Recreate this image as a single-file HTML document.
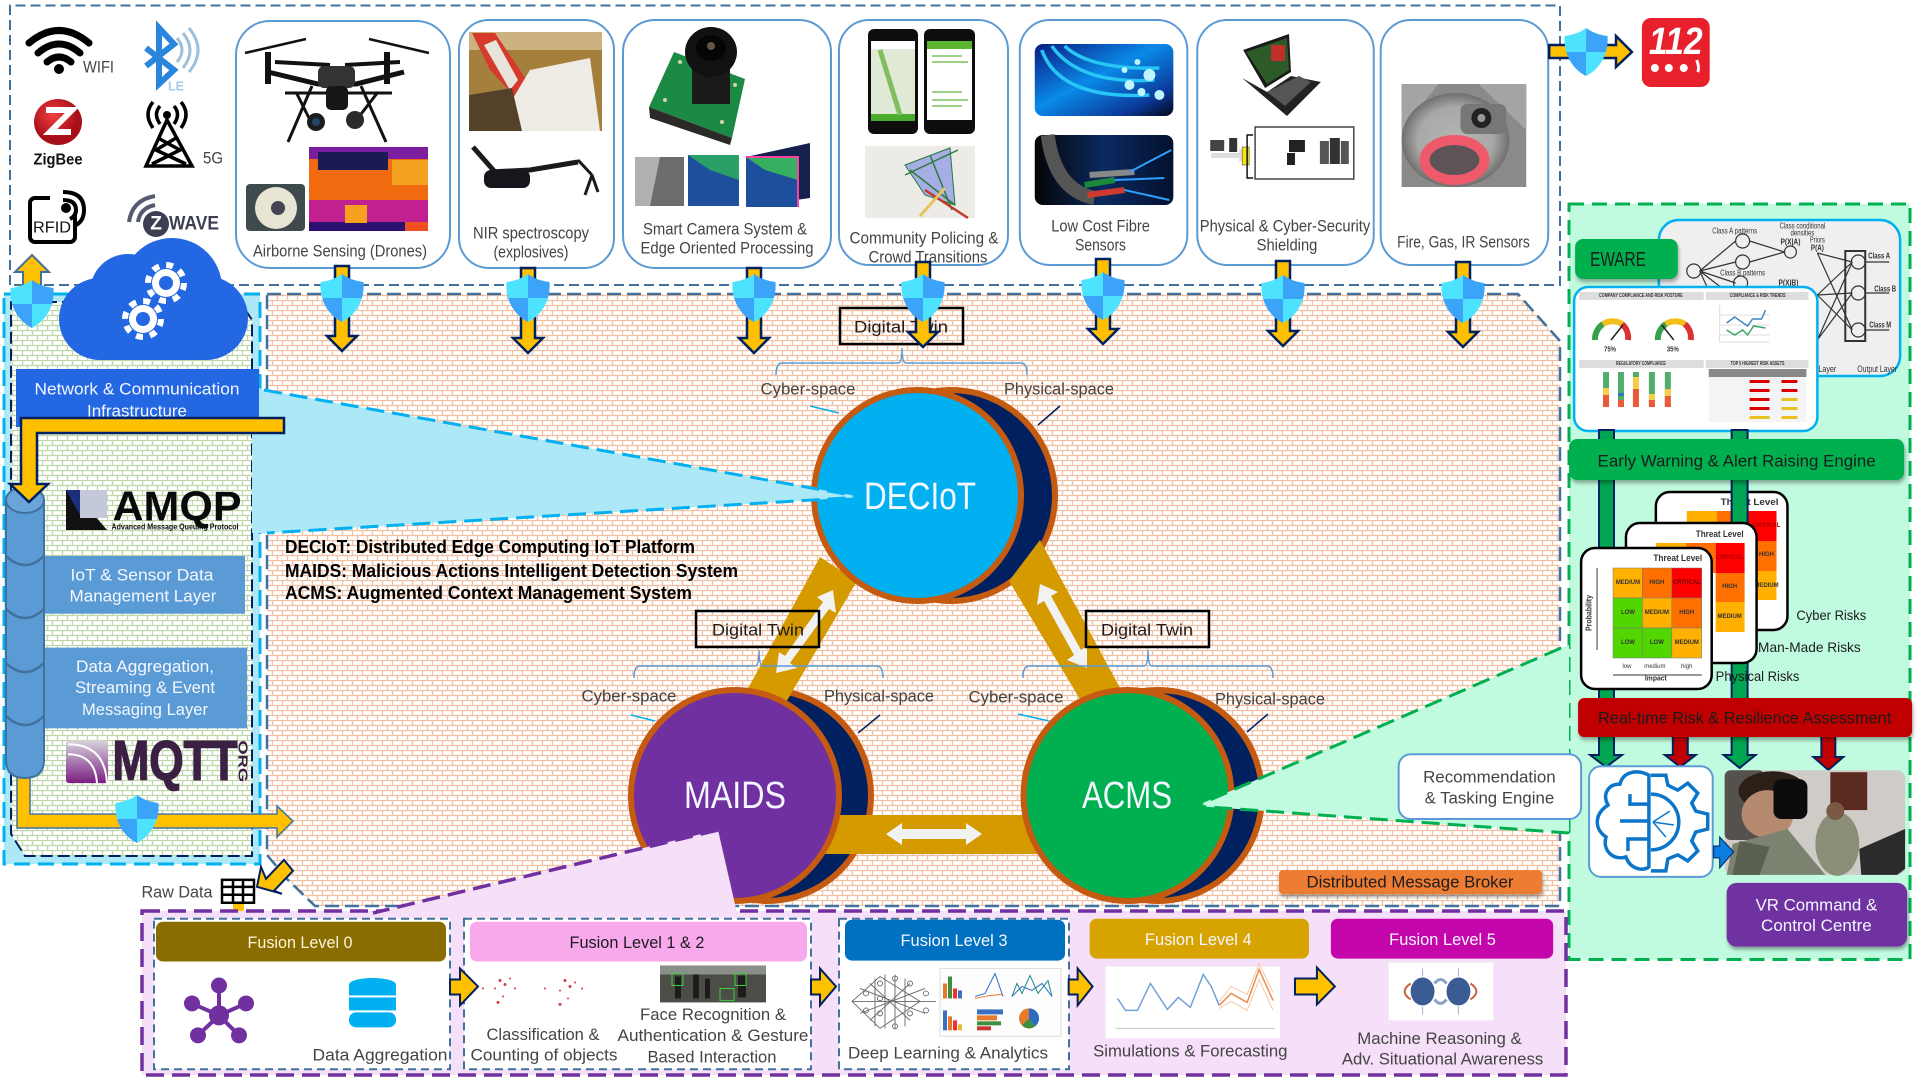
<!DOCTYPE html>
<html><head><meta charset="utf-8"><title>Architecture</title>
<style>
html,body{margin:0;padding:0;background:#fff;width:1917px;height:1078px;overflow:hidden}
svg{display:block}
text{font-family:"Liberation Sans",sans-serif;}
.t{font-size:17px;fill:#444;text-anchor:middle;dominant-baseline:central}
.w{fill:#f4f7ff}.d{fill:#1c1c1c}
.b{font-size:18px;font-weight:bold;fill:#000;dominant-baseline:central}
.g{font-size:6px;font-weight:bold;fill:#333;text-anchor:middle;dominant-baseline:central}
.card{fill:#fff;stroke:#5b9bd5;stroke-width:2}
</style></head><body>
<svg width="1917" height="1078" viewBox="0 0 1917 1078" xmlns="http://www.w3.org/2000/svg">
<defs>
<pattern id="bo" width="10" height="10" patternUnits="userSpaceOnUse">
<rect width="10" height="10" fill="#fff"/>
<path d="M0 .5H10M0 5.5H10M2.5 0V5M7.5 5V10" stroke="#f2bfa0" stroke-width="1.300" fill="none"/>
</pattern>
<pattern id="bg" width="10" height="10" patternUnits="userSpaceOnUse">
<rect width="10" height="10" fill="#fff"/>
<path d="M0 .5H10M0 5.5H10M2.5 0V5M7.5 5V10" stroke="#bdd7a6" stroke-width="1.300" fill="none"/>
</pattern>
<clipPath id="sc"><path d="M0-24C7-19 14-17 21.500-16C23 4 12 18 0 24C-12 18-23 4-21.500-16C-14-17-7-19 0-24Z"/></clipPath>
<g id="sh"><g clip-path="url(#sc)"><rect x="-23" y="-25" width="23" height="25" fill="#4de3ff"/><rect x="0" y="-25" width="23" height="25" fill="#3ba3f8"/><rect x="-23" y="0" width="23" height="25" fill="#3ba3f8"/><rect x="0" y="0" width="23" height="25" fill="#4de3ff"/></g></g>
<polygon id="dn" points="-7,0 7,0 7,70 15,70 0,85 -15,70 -7,70" fill="#ffc000" stroke="#002060" stroke-width="2.500"/>
<filter id="s" x="-5%" y="-10%" width="110%" height="130%"><feDropShadow dx="1" dy="3" stdDeviation="2" flood-color="#000" flood-opacity=".35"/></filter>
<g id="gear"><circle r="14" fill="#fff"/><circle r="18" fill="none" stroke="#fff" stroke-width="6" stroke-dasharray="7 7.140"/><circle r="7" fill="#2367e3"/></g>
<radialGradient id="zb" cx=".4" cy=".35"><stop offset="0" stop-color="#f04040"/><stop offset="1" stop-color="#a80f18"/></radialGradient>
<linearGradient id="fib" x1="0" y1="0" x2="1" y2="1"><stop offset="0" stop-color="#0a1a80"/><stop offset=".45" stop-color="#0a8ae8"/><stop offset=".8" stop-color="#0b3a9a"/><stop offset="1" stop-color="#04061a"/></linearGradient>
<linearGradient id="fib2" x1="0" y1="0" x2="1" y2="0"><stop offset="0" stop-color="#050505"/><stop offset=".5" stop-color="#0a2a60"/><stop offset="1" stop-color="#03112e"/></linearGradient>
<linearGradient id="mq" x1="0" y1="0" x2="0" y2="1"><stop offset="0" stop-color="#d8d4de"/><stop offset="1" stop-color="#7a1f80"/></linearGradient>
<radialGradient id="cam" cx=".5" cy=".5"><stop offset="0" stop-color="#b5b5b3"/><stop offset=".7" stop-color="#a8a8a6"/><stop offset="1" stop-color="#6f6f6f"/></radialGradient>
</defs>

<rect width="1917" height="1078" fill="#fff"/>

<!-- top dashed -->
<path d="M10 285V5.500H1560V285H10" fill="none" stroke="#41719c" stroke-width="2" stroke-dasharray="10 5"/>

<!-- central hatched -->
<polygon points="267,294 1518,294 1560,341 1560,906 315,906 288,880 267,855" fill="url(#bo)" stroke="#41719c" stroke-width="2.500" stroke-dasharray="14 6"/>

<!-- left panel -->
<rect x="4" y="294" width="256" height="570" fill="#ade8f6" stroke="#00b0f0" stroke-width="3" stroke-dasharray="16 8"/>
<polygon points="11,302 240,302 252,320 252,856 25,856 11,834" fill="url(#bg)" stroke="#002060" stroke-width="2" stroke-dasharray="12 5"/>

<!-- right panel -->
<rect x="1569" y="204" width="341" height="755.500" fill="#c1fbdf" stroke="#00b050" stroke-width="3" stroke-dasharray="15 8"/>

<!-- cards left -->
<rect class="card" x="236" y="21" width="214" height="247" rx="34"/>
<rect class="card" x="459" y="20" width="155" height="248" rx="30"/>
<rect class="card" x="623" y="20" width="208" height="248" rx="32"/>
<rect class="card" x="839" y="20" width="169" height="245" rx="30"/>

<!-- Wireless icons -->
<g fill="none" stroke="#000" stroke-width="7" stroke-linecap="round">
<path d="M29 43Q59 18 89 43"/><path d="M38 53Q59 35 80 53"/><path d="M47 62Q59 52 71 62"/></g>
<circle cx="59" cy="69" r="5"/>
<text x="83" y="67" class="t" style="text-anchor:start" textLength="31" lengthAdjust="spacingAndGlyphs">WIFI</text>
<path d="M146 48L174 70L159 84V28L174 44L146 66" fill="none" stroke="#2a85dc" stroke-width="6"/>
<g fill="none" stroke="#9dc0dc" stroke-width="3"><path d="M177 38Q187 50 177 62"/><path d="M183 33Q197 50 183 68"/><path d="M189 28Q207 50 189 72"/></g>
<text x="176" y="86" class="t" style="font-size:13px;font-weight:bold;fill:#a9c8ec" textLength="16" lengthAdjust="spacingAndGlyphs">LE</text>
<ellipse cx="58" cy="122" rx="24" ry="23" fill="url(#zb)"/>
<path d="M46 110H72L50 132H71" fill="none" stroke="#fff" stroke-width="6"/>
<text x="58" y="160" class="t" style="font-size:16px;font-weight:bold;fill:#111" textLength="49" lengthAdjust="spacingAndGlyphs">ZigBee</text>
<g fill="none" stroke="#000" stroke-width="3.500"><path d="M167 120L146 166H192L167 120Z"/><path d="M158 138L180 150L152 164M176 138L156 150L186 164"/>
<path d="M160 106Q153 114 160 124M174 106Q181 114 174 124M153 102Q143 114 153 128M181 102Q191 114 181 128"/></g>
<circle cx="167" cy="115" r="4"/>
<text x="203" y="158" class="t" style="text-anchor:start" textLength="20" lengthAdjust="spacingAndGlyphs">5G</text>
<rect x="30" y="198" width="45" height="44" rx="5" fill="none" stroke="#000" stroke-width="4"/>
<rect x="50" y="190" width="36" height="24" fill="#fff"/>
<g fill="none" stroke="#000" stroke-width="4"><path d="M63 192Q84 192 84 210Q84 222 74 226"/><path d="M63 200Q76 200 76 210Q76 216 70 219"/></g><circle cx="66" cy="208" r="5"/>
<text x="52" y="228" class="t" style="fill:#111;font-size:16px" textLength="38" lengthAdjust="spacingAndGlyphs">RFID</text>
<g fill="none" stroke="#555a6e" stroke-width="4"><path d="M129 222Q132 200 155 196"/><path d="M138 222Q140 208 155 205"/></g>
<circle cx="156" cy="224" r="13" fill="#3c3f52"/><text x="156" y="224" class="t" style="font-size:19px;font-weight:bold;fill:#fff">Z</text>
<text x="194" y="224" class="t" style="font-size:19px;font-weight:bold;fill:#3c3f52" textLength="50" lengthAdjust="spacingAndGlyphs">WAVE</text>

<!-- Drone -->
<g stroke="#111" fill="none">
<path d="M245 53L306 39M429 53L369 39" stroke-width="2.500"/>
<path d="M268 72L318 84H356L404 72" stroke-width="5"/>
<path d="M268 52V84M387 52V84" stroke-width="6"/>
<path d="M312 86L288 142M361 86L386 142M296 92L310 120M378 92L358 118" stroke-width="3"/>
<path d="M285 93H392" stroke-width="3"/>
<path d="M330 65L275 62M345 65L400 62" stroke-width="4"/>
</g>
<rect x="318" y="66" width="37" height="22" rx="6" fill="#333"/>
<rect x="326" y="86" width="22" height="24" rx="5" fill="#161616"/>
<circle cx="316" cy="122" r="9" fill="#1c1c1c"/><circle cx="316" cy="122" r="4" fill="#246"/>
<circle cx="355" cy="120" r="9" fill="#2a2a2a"/>
<!-- gimbal -->
<rect x="246" y="184" width="59" height="47" rx="4" fill="#3e4a4c"/>
<ellipse cx="276" cy="208" rx="21" ry="21" fill="#e9e5d4"/><circle cx="278" cy="208" r="7" fill="#445"/>
<!-- thermal -->
<rect x="309" y="147" width="119" height="84" rx="4" fill="#f06a10"/>
<rect x="309" y="147" width="119" height="12" fill="#7b1fa0"/><rect x="318" y="152" width="70" height="18" fill="#1c1a55"/>
<rect x="392" y="160" width="36" height="25" fill="#f4a020"/>
<rect x="309" y="200" width="119" height="31" fill="#c02090"/>
<rect x="309" y="222" width="119" height="9" fill="#2c1070"/>
<path d="M345 205h22v18h-22z" fill="#f6a020"/><rect x="405" y="222" width="23" height="9" fill="#f05020"/>

<!-- NIR -->
<rect x="469" y="32" width="133" height="99" fill="#a5803c"/>
<rect x="469" y="32" width="133" height="18" fill="#ccb27f"/>
<polygon points="472,33 495,33 530,85 518,100 490,70" fill="#d63a2c"/><polygon points="484,45 496,40 518,80 510,90" fill="#e8e4dc"/>
<polygon points="530,70 590,58 600,131 520,131 512,100" fill="#efece5"/>
<polygon points="469,95 512,88 522,131 469,131" fill="#54412a"/>
<g stroke="#1a1a1a" fill="none"><path d="M490 172L530 170L578 162" stroke-width="5"/><path d="M473 147L495 172" stroke-width="5"/><path d="M578 160L592 175M592 175L585 195M592 175L598 192" stroke-width="3"/></g>
<rect x="484" y="170" width="46" height="18" rx="7" fill="#15171c"/>

<!-- Camera -->
<polygon points="674,52 745,79 732,138 649,107" fill="#1b8a45"/>
<polygon points="649,107 732,138 730,145 650,118" fill="#2c2a28"/>
<g fill="#d8d2b0"><circle cx="665" cy="100" r="2"/><circle cx="722" cy="122" r="2"/><circle cx="735" cy="85" r="2"/><circle cx="680" cy="62" r="2"/></g>
<rect x="692" y="62" width="38" height="42" fill="#1a1a1a"/>
<ellipse cx="711" cy="52" rx="26" ry="25" fill="#111"/><ellipse cx="711" cy="48" rx="15" ry="13" fill="#050505"/><circle cx="711" cy="46" r="4" fill="#654"/>
<rect x="635" y="157" width="49" height="49" fill="#6d6d6d"/><polygon points="635,157 660,157 650,206 635,206" fill="#b0b0b0"/>
<rect x="688" y="155" width="51" height="51" fill="#1e4f9c"/><polygon points="688,155 739,155 739,180 710,170" fill="#2aa068"/>
<polygon points="746,157 810,143 810,198 746,207" fill="#16204e"/><rect x="746" y="157" width="52" height="50" fill="#1e4f9c"/><polygon points="746,157 798,157 798,180 765,170" fill="#36b060"/>
<path d="M746 157h52v50" stroke="#ff40a0" fill="none" stroke-width="2"/>

<!-- Phones -->
<rect x="868" y="29" width="50" height="105" rx="6" fill="#0d0d0d"/><rect x="871" y="41" width="44" height="79" fill="#dfe9d5"/><rect x="871" y="41" width="44" height="8" fill="#fff"/><rect x="871" y="114" width="44" height="7" fill="#4aab2c"/><path d="M880 50L900 115" stroke="#7fbf5f" stroke-width="5"/>
<rect x="924" y="29" width="51" height="105" rx="6" fill="#0d0d0d"/><rect x="927" y="41" width="45" height="79" fill="#fff"/><rect x="927" y="41" width="45" height="8" fill="#5cb531"/><path d="M932 56h30M932 62h36M932 92h30M932 100h36M932 106h30" stroke="#7fbf5f" stroke-width="1.500"/>
<rect x="865" y="146" width="110" height="72" fill="#ecebe6"/>
<polygon points="905,165 950,148 955,205 925,195" fill="#a7aee6" stroke="#274"/>
<path d="M905 175L958 150M910 170L955 205M930 155L952 210" stroke="#2a7c3c" stroke-width="1.500"/><path d="M925 190L968 218" stroke="#c23a2a" stroke-width="2.500"/><path d="M920 216L945 188" stroke="#e8c25a" stroke-width="3"/>

<!-- Card text left -->
<text x="340" y="251" class="t" textLength="174" lengthAdjust="spacingAndGlyphs">Airborne Sensing (Drones)</text>
<text x="531" y="233" class="t" textLength="116" lengthAdjust="spacingAndGlyphs">NIR spectroscopy</text>
<text x="531" y="252" class="t" textLength="75" lengthAdjust="spacingAndGlyphs">(explosives)</text>
<text x="725" y="229" class="t" textLength="164" lengthAdjust="spacingAndGlyphs">Smart Camera System &amp;</text>
<text x="727" y="248" class="t" textLength="173" lengthAdjust="spacingAndGlyphs">Edge Oriented Processing</text>
<text x="924" y="238" class="t" textLength="149" lengthAdjust="spacingAndGlyphs">Community Policing &amp;</text>
<text x="928" y="257" class="t" textLength="119" lengthAdjust="spacingAndGlyphs">Crowd Transitions</text>

<!-- right half top items -->
<g transform="matrix(.99695 0 0 1 2.928 0)">
<rect class="card" x="1020" y="20" width="168" height="245" rx="30"/>
<rect class="card" x="1198" y="20" width="177" height="245" rx="30"/>
<rect class="card" x="1382" y="20" width="168" height="245" rx="30"/>
<!-- Fibres -->
<rect x="1035" y="44" width="139" height="72" rx="8" fill="url(#fib)"/>
<g fill="none" stroke="#27c6f5" stroke-width="3.500"><path d="M1042 50Q1060 100 1150 95"/><path d="M1052 46Q1080 85 1155 80"/><path d="M1065 46Q1090 70 1160 68"/></g>
<g fill="#bff4ff"><circle cx="1130" cy="85" r="5"/><circle cx="1150" cy="75" r="6"/><circle cx="1160" cy="95" r="5"/><circle cx="1125" cy="70" r="3"/><circle cx="1142" cy="92" r="4"/><circle cx="1138" cy="62" r="3"/></g>
<rect x="1035" y="135" width="139" height="70" rx="8" fill="url(#fib2)"/>
<path d="M1048 135Q1055 190 1095 198" fill="none" stroke="#555" stroke-width="14"/>
<g stroke-width="6"><path d="M1085 185L1115 180" stroke="#1a8a3a"/><path d="M1088 195L1125 190" stroke="#cc3a30"/><path d="M1090 175L1135 172" stroke="#888"/></g>
<path d="M1130 172L1172 150M1125 190L1170 200M1115 180L1165 178" stroke="#2ea0ff" stroke-width="2"/>
<!-- Laptop -->
<polygon points="1244,50 1290,34 1292,72 1266,88" fill="#1a1a1a"/>
<polygon points="1247,52 1288,38 1290,70 1268,84" fill="#2c5a28"/><rect x="1272" y="45" width="14" height="16" fill="#c0302a"/>
<polygon points="1243,78 1268,92 1292,76 1322,82 1288,116" fill="#222"/>
<polygon points="1268,92 1300,76 1312,82 1286,106" fill="#555"/>
<rect x="1256" y="127" width="99" height="52" fill="#fff" stroke="#444" stroke-width="1.500"/>
<rect x="1211" y="140" width="14" height="11" fill="#444"/><rect x="1230" y="138" width="8" height="14" fill="#333"/>
<polygon points="1212,153 1240,153 1240,148 1250,155 1240,162 1240,158 1212,158" fill="#ddd"/>
<rect x="1243" y="147" width="7" height="18" fill="#f2e70f" stroke="#333" stroke-width=".5"/><path d="M1254 135h-6v43h6" fill="none" stroke="#111" stroke-width="1.500"/>
<rect x="1290" y="140" width="16" height="12" fill="#222"/><rect x="1288" y="153" width="8" height="12" fill="#222"/>
<rect x="1321" y="141" width="9" height="23" fill="#555"/><rect x="1331" y="138" width="10" height="26" fill="#333"/><rect x="1342" y="141" width="8" height="23" fill="#555"/>
<!-- Fire sensor -->
<rect x="1403" y="84" width="125" height="103" fill="#8a8a88"/>
<path d="M1403 84L1440 84L1403 130ZM1480 84L1528 130V84Z" fill="#a4a4a2"/>
<ellipse cx="1457" cy="140" rx="54" ry="47" fill="url(#cam)"/>
<ellipse cx="1456" cy="160" rx="30" ry="20" fill="#5e5458" stroke="#ef5a6a" stroke-width="10"/>
<rect x="1462" y="104" width="46" height="30" rx="7" fill="#777"/><circle cx="1483" cy="118" r="10" fill="#222"/><circle cx="1483" cy="118" r="4" fill="#999"/>
<!-- text -->
<text x="1101" y="226" class="t" textLength="99" lengthAdjust="spacingAndGlyphs">Low Cost Fibre</text>
<text x="1101" y="245" class="t" textLength="51" lengthAdjust="spacingAndGlyphs">Sensors</text>
<text x="1286" y="226" class="t" textLength="171" lengthAdjust="spacingAndGlyphs">Physical &amp; Cyber-Security</text>
<text x="1288" y="245" class="t" textLength="61" lengthAdjust="spacingAndGlyphs">Shielding</text>
<text x="1465" y="242" class="t" textLength="133" lengthAdjust="spacingAndGlyphs">Fire, Gas, IR Sensors</text>
</g>

<!-- back circles -->
<g stroke="#c55a11" stroke-width="6" fill="#002060">
<ellipse cx="951" cy="495.500" rx="104" ry="105.500"/>
<ellipse cx="767" cy="795.500" rx="104" ry="105.500"/>
<ellipse cx="1158" cy="795.500" rx="104" ry="105.500"/>
</g>
<!-- gold bands -->
<g fill="#d49a00">
<polygon points="735,712 820,557 857,581 778,716"/>
<polygon points="1090,716 1009,581 1040,540 1132,710"/>
<rect x="815" y="815" width="230" height="39"/>
</g>
<!-- front circles -->
<g stroke="#c55a11" stroke-width="6">
<ellipse cx="917.500" cy="495.500" rx="103.500" ry="105.500" fill="#00b0f0"/>
<ellipse cx="735" cy="795.500" rx="104" ry="105.500" fill="#7030a0"/>
<ellipse cx="1127.500" cy="795.500" rx="104" ry="105.500" fill="#00b050"/>
</g>
<text x="920" y="497" class="t w" style="font-size:38px" textLength="112" lengthAdjust="spacingAndGlyphs">DECIoT</text>
<text x="735" y="796" class="t w" style="font-size:38px" textLength="102" lengthAdjust="spacingAndGlyphs">MAIDS</text>
<text x="1127" y="796" class="t w" style="font-size:38px" textLength="90" lengthAdjust="spacingAndGlyphs">ACMS</text>

<!-- white double arrows -->
<g fill="#f2f2f2">
<polygon points="833,590 836,613 829,609 790,663 797,668 776,673 779,652 785,656 823,602 817,597"/>
<polygon points="1040,584 1058,592 1051,596 1081,650 1087,646 1087,668 1067,660 1074,655 1044,601 1037,605"/>
<polygon points="886,834 902,823 902,829 966,829 966,823 982,834 966,845 966,839 902,839 902,845"/>
</g>

<!-- brackets -->
<g fill="none" stroke="#5b9bd5" stroke-width="1.500">
<path d="M776 375Q776 363 782 363H898Q902 363 902 348Q902 363 906 363H1021Q1027 363 1027 375"/>
<path d="M634 678Q634 666 640 666H755Q759 666 759 650Q759 666 763 666H877Q883 666 883 678"/>
<path d="M1023 678Q1023 666 1029 666H1144Q1148 666 1148 650Q1148 666 1152 666H1267Q1273 666 1273 678"/>
</g>
<g fill="none" stroke-width="1.500">
<path d="M810 406L839 413M631 715L655 721M1018 714L1049 721" stroke="#00b0f0"/>
<path d="M1060 406L1038 425M880 715L858 733M1268 714L1247 732" stroke="#002060"/>
</g>
<text x="808" y="389" class="t" textLength="95" lengthAdjust="spacingAndGlyphs">Cyber-space</text>
<text x="1059" y="389" class="t" textLength="110" lengthAdjust="spacingAndGlyphs">Physical-space</text>
<text x="629" y="696" class="t" textLength="95" lengthAdjust="spacingAndGlyphs">Cyber-space</text>
<text x="879" y="696" class="t" textLength="110" lengthAdjust="spacingAndGlyphs">Physical-space</text>
<text x="1016" y="697" class="t" textLength="95" lengthAdjust="spacingAndGlyphs">Cyber-space</text>
<text x="1270" y="699" class="t" textLength="110" lengthAdjust="spacingAndGlyphs">Physical-space</text>

<!-- digital twin -->
<g fill="none" stroke="#000" stroke-width="2.500">
<rect x="840" y="308" width="123" height="36"/>
<rect x="696" y="611" width="123" height="36"/>
<rect x="1086" y="611" width="123" height="36"/>
</g>
<text x="901" y="327" class="t d" textLength="94" lengthAdjust="spacingAndGlyphs">Digital Twin</text>
<text x="758" y="630" class="t d" textLength="92" lengthAdjust="spacingAndGlyphs">Digital Twin</text>
<text x="1147" y="630" class="t d" textLength="92" lengthAdjust="spacingAndGlyphs">Digital Twin</text>

<text x="285" y="547" class="b" textLength="410" lengthAdjust="spacingAndGlyphs">DECIoT: Distributed Edge Computing IoT Platform</text>
<text x="285" y="571" class="b" textLength="453" lengthAdjust="spacingAndGlyphs">MAIDS: Malicious Actions Intelligent Detection System</text>
<text x="285" y="593" class="b" textLength="407" lengthAdjust="spacingAndGlyphs">ACMS: Augmented Context Management System</text>

<!-- wedges -->
<polygon points="252,385 264,390 862,497 267,533 252,533" fill="#ade8f6"/>
<path d="M264 390L862 497L267 533" fill="none" stroke="#00b0f0" stroke-width="3" stroke-dasharray="18 8"/>
<polygon points="1196,806 1561,648 1569,645 1569,833" fill="#c1fbdf"/>
<path d="M1561 648L1196 806L1569 833" fill="none" stroke="#00b050" stroke-width="3" stroke-dasharray="18 8"/>

<!-- Distributed broker -->
<rect x="1279" y="870" width="263" height="24" rx="4" fill="#ed7d31" filter="url(#s)"/>
<text x="1410" y="882" class="t d" textLength="207" lengthAdjust="spacingAndGlyphs">Distributed Message Broker</text>

<!-- Cloud -->
<g fill="#2367e3"><circle cx="100" cy="319" r="41"/><circle cx="128" cy="292" r="38"/><circle cx="172" cy="288" r="50"/><circle cx="206" cy="318" r="42"/><rect x="100" y="300" width="106" height="60"/></g>
<use href="#gear" x="166" y="283"/><use href="#gear" x="143" y="319"/>

<rect x="16" y="369" width="243" height="58" fill="#2367e3"/>
<text x="137" y="389" class="t w" textLength="205" lengthAdjust="spacingAndGlyphs">Network &amp; Communication</text>
<text x="137" y="411" class="t w" textLength="100" lengthAdjust="spacingAndGlyphs">Infrastructure</text>

<!-- AMQP -->
<polygon points="66,490 73,490 107,530 66,530" fill="#111"/><polygon points="66,490 80,490 80,515" fill="#1b2f7e"/><rect x="80" y="490" width="27" height="28" fill="#c3c9da"/><polygon points="66,520 95,520 107,530 66,530" fill="#111"/>
<text x="177" y="506" class="t" style="font-size:42px;font-weight:bold;fill:#0a0a0a" textLength="129" lengthAdjust="spacingAndGlyphs">AMQP</text>
<text x="175" y="527" class="t" style="font-size:8px;font-weight:bold;fill:#111" textLength="127" lengthAdjust="spacingAndGlyphs">Advanced Message Queuing Protocol</text>

<g transform="matrix(1 0 0 .9966 0 1.836)">
<!-- Layers -->
<rect x="44" y="556" width="201" height="58" fill="#5b9bd5"/>
<text x="142" y="575" class="t w" textLength="143" lengthAdjust="spacingAndGlyphs">IoT  &amp; Sensor Data</text>
<text x="143" y="596" class="t w" textLength="147" lengthAdjust="spacingAndGlyphs">Management Layer</text>
<rect x="44" y="648" width="203" height="81" fill="#5b9bd5"/>
<text x="145" y="667" class="t w" textLength="138" lengthAdjust="spacingAndGlyphs">Data Aggregation,</text>
<text x="145" y="688" class="t w" textLength="140" lengthAdjust="spacingAndGlyphs">Streaming &amp; Event</text>
<text x="145" y="710" class="t w" textLength="126" lengthAdjust="spacingAndGlyphs">Messaging Layer</text>

<!-- MQTT -->
<rect x="66" y="741" width="42" height="43" rx="3" fill="url(#mq)"/>
<path d="M68 755Q95 755 97 784M68 745Q105 745 107 784" fill="none" stroke="#fff" stroke-width="2"/>
<text x="175" y="761" class="t" style="font-size:56px;font-weight:bold;fill:#3b2044;stroke:#3b2044;stroke-width:1.500px" textLength="125" lengthAdjust="spacingAndGlyphs">MQTT</text>
<text transform="translate(243 762) rotate(90)" class="t" style="font-size:13px;font-weight:bold;fill:#3b2044" textLength="42" lengthAdjust="spacingAndGlyphs">ORG</text>

<!-- cylinder + arrows -->
<polygon points="17,775 30,775 30,815 277,815 277,807 293,822 277,838 277,829 17,829" fill="#ffc000" stroke="#41719c" stroke-width="1.500"/>
</g>
<rect x="6" y="495" width="38" height="265" fill="#5b9bd5"/>
<ellipse cx="25" cy="500" rx="19" ry="13" fill="#6aa4da" stroke="#41719c" stroke-width="2"/>
<path d="M6 760Q6 778 25 778Q44 778 44 760" fill="#5b9bd5" stroke="#41719c" stroke-width="2"/>
<path d="M6 500V760M44 500V760" stroke="#41719c" stroke-width="2"/>
<g fill="none" stroke="#41719c" stroke-width="2.500"><path d="M6 556Q25 574 44 556"/><path d="M6 609Q25 627 44 609"/><path d="M6 663Q25 681 44 663"/><path d="M6 716Q25 734 44 716"/></g>
<polygon points="21,418 284,418 284,433 37,433 37,484 48,484 29,502 10,484 21,484" fill="#ffc000" stroke="#002060" stroke-width="2.500"/>
<use href="#sh" x="137" y="819"/>

<!-- up arrow & shield -->
<polygon points="32,255 49,272 41,272 41,290 23,290 23,272 15,272" fill="#ffc000" stroke="#41719c" stroke-width="2"/>
<use href="#sh" x="32" y="304"/>

<!-- down arrows + shields -->
<use href="#dn" x="342" y="266"/><use href="#dn" x="528" y="268"/><use href="#dn" x="754" y="268"/><use href="#dn" x="923" y="262"/><use href="#dn" x="1103" y="259"/><use href="#dn" x="1283" y="261"/><use href="#dn" x="1463" y="262"/>
<use href="#sh" x="342" y="298"/><use href="#sh" x="528" y="298"/><use href="#sh" x="754" y="298"/><use href="#sh" x="923" y="298"/><use href="#sh" x="1103" y="296"/><use href="#sh" x="1283" y="299"/><use href="#sh" x="1463" y="299"/>

<!-- right panel: upper items -->
<g transform="matrix(.99695 0 0 1 2.928 0)">
<!-- 112 -->
<polygon points="1551,45 1618,45 1618,36 1634,52 1618,67 1618,58 1551,58" fill="#ffc000" stroke="#002060" stroke-width="2.500"/>
<use href="#sh" x="1588" y="52"/>
<rect x="1644" y="18" width="68" height="69" rx="9" fill="#e8202c"/>
<text x="1678" y="42" class="t" style="font-size:38px;font-weight:bold;font-style:italic;fill:#fff" textLength="54" lengthAdjust="spacingAndGlyphs">112</text>
<g fill="#fff"><circle cx="1657" cy="68" r="4"/><circle cx="1671" cy="68" r="4"/><circle cx="1686" cy="68" r="4"/></g><path d="M1700 72Q1702 68 1699 60" stroke="#fff" stroke-width="3" fill="none"/>

<!-- NN panel -->
<rect x="1661" y="220" width="242" height="156" rx="20" fill="#efefef" stroke="#00b0f0" stroke-width="2.500"/>
<g fill="none" stroke="#333" stroke-width="1.200">
<circle cx="1696" cy="271" r="7"/><circle cx="1745" cy="241" r="7"/><circle cx="1745" cy="262" r="7"/><circle cx="1743" cy="283" r="7"/><circle cx="1793" cy="252" r="6"/>
<circle cx="1861" cy="262" r="7"/><circle cx="1861" cy="293" r="7"/><circle cx="1861" cy="330" r="7"/>
<rect x="1848" y="251" width="20" height="90" stroke-width="2"/>
<path d="M1702 271L1738 241M1702 271L1738 262M1702 271L1738 283M1702 271L1720 310M1702 271L1740 300M1752 241L1787 252M1752 262L1787 252M1820 253L1855 262M1820 253L1855 330M1820 295L1855 262M1820 295L1855 293M1820 295L1855 330M1820 340L1855 262M1820 340L1855 293M1868 262H1892M1868 293H1892M1868 330H1892"/>
</g>
<g><text x="1737" y="231" class="g" style="font-size:8px;font-weight:normal" textLength="45" lengthAdjust="spacingAndGlyphs">Class A patterns</text>
<text x="1805" y="226" class="g" style="font-size:8px;font-weight:normal" textLength="46" lengthAdjust="spacingAndGlyphs">Class conditional</text>
<text x="1805" y="233" class="g" style="font-size:8px;font-weight:normal" textLength="24" lengthAdjust="spacingAndGlyphs">densities</text>
<text x="1793" y="242" class="g" style="font-size:8px" textLength="20" lengthAdjust="spacingAndGlyphs">P(X|A)</text>
<text x="1820" y="240" class="g" style="font-size:8px;font-weight:normal" textLength="15" lengthAdjust="spacingAndGlyphs">Priors</text>
<text x="1820" y="248" class="g" style="font-size:8px" textLength="13" lengthAdjust="spacingAndGlyphs">P(A)</text>
<text x="1745" y="273" class="g" style="font-size:8px;font-weight:normal" textLength="45" lengthAdjust="spacingAndGlyphs">Class B patterns</text>
<text x="1791" y="283" class="g" style="font-size:8px" textLength="20" lengthAdjust="spacingAndGlyphs">P(X|B)</text>
<text x="1882" y="256" class="g" style="font-size:8px" textLength="22" lengthAdjust="spacingAndGlyphs">Class A</text>
<text x="1888" y="289" class="g" style="font-size:8px" textLength="22" lengthAdjust="spacingAndGlyphs">Class B</text>
<text x="1883" y="325" class="g" style="font-size:8px" textLength="22" lengthAdjust="spacingAndGlyphs">Class M</text>
<text x="1880" y="369" class="g" style="font-size:9px;font-weight:normal" textLength="40" lengthAdjust="spacingAndGlyphs">Output Layer</text>
<text x="1830" y="369" class="g" style="font-size:9px;font-weight:normal" textLength="18" lengthAdjust="spacingAndGlyphs">Layer</text></g>

<rect x="1577" y="239" width="103" height="40" rx="8" fill="#00b050" filter="url(#s)"/>
<text x="1620" y="260" class="t d" style="font-size:20px" textLength="56" lengthAdjust="spacingAndGlyphs">EWARE</text>

<!-- Dashboard -->
<rect x="1576" y="287" width="244" height="144" rx="14" fill="#fff" stroke="#00b0f0" stroke-width="2.500"/>
<g fill="#ddd"><rect x="1581" y="292" width="125" height="8"/><rect x="1708" y="292" width="103" height="8"/><rect x="1581" y="360" width="125" height="8"/><rect x="1708" y="360" width="103" height="8"/></g>
<g><text x="1643" y="296" class="g" style="font-size:5px" textLength="84" lengthAdjust="spacingAndGlyphs">COMPANY COMPLIANCE AND RISK POSTURE</text>
<text x="1760" y="296" class="g" style="font-size:5px" textLength="56" lengthAdjust="spacingAndGlyphs">COMPLIANCE &amp; RISK TRENDS</text>
<text x="1643" y="364" class="g" style="font-size:5px" textLength="50" lengthAdjust="spacingAndGlyphs">REGULATORY COMPLIANCE</text>
<text x="1760" y="364" class="g" style="font-size:5px" textLength="54" lengthAdjust="spacingAndGlyphs">TOP 5 HIGHEST RISK ASSETS</text></g>
<g fill="none" stroke-width="6"><path d="M1597 340A18 18 0 0 1 1605 324" stroke="#38a04a"/><path d="M1605 324A18 18 0 0 1 1624 324" stroke="#f3c01b"/><path d="M1624 324A18 18 0 0 1 1630 340" stroke="#d83232"/>
<path d="M1660 340A18 18 0 0 1 1668 324" stroke="#38a04a"/><path d="M1668 324A18 18 0 0 1 1687 324" stroke="#f3c01b"/><path d="M1687 324A18 18 0 0 1 1693 340" stroke="#d83232"/></g>
<path d="M1613 340L1625 325M1676 340L1664 325" stroke="#222" stroke-width="1.500"/>
<text x="1612" y="350" class="g" style="font-size:7px" textLength="12" lengthAdjust="spacingAndGlyphs">75%</text>
<text x="1675" y="350" class="g" style="font-size:7px" textLength="12" lengthAdjust="spacingAndGlyphs">35%</text>
<path d="M1722 305V342H1772M1722 315H1772M1722 325H1772M1722 335H1772" fill="none" stroke="#ddd"/>
<polyline points="1729,323 1737,317 1750,326 1755,319 1764,319 1768,310" fill="none" stroke="#3b86c4" stroke-width="1.500"/>
<polyline points="1729,330 1737,335 1745,330 1750,335 1756,326 1768,328" fill="none" stroke="#3aa767" stroke-width="1.500"/>
<g>
<rect x="1605" y="372" width="6" height="35" fill="#52ad6b"/><rect x="1605" y="395" width="6" height="12" fill="#e95a3a"/><rect x="1605" y="388" width="6" height="7" fill="#f4cd4b"/>
<rect x="1620" y="372" width="6" height="35" fill="#52ad6b"/><rect x="1620" y="400" width="6" height="7" fill="#e95a3a"/><rect x="1620" y="393" width="6" height="3" fill="#2a78c8"/>
<rect x="1635" y="372" width="6" height="35" fill="#f4cd4b"/><rect x="1635" y="389" width="6" height="18" fill="#e95a3a"/><rect x="1635" y="372" width="6" height="5" fill="#52ad6b"/>
<rect x="1651" y="372" width="6" height="35" fill="#52ad6b"/><rect x="1651" y="400" width="6" height="7" fill="#e95a3a"/><rect x="1651" y="394" width="6" height="6" fill="#f4cd4b"/>
<rect x="1667" y="372" width="6" height="35" fill="#52ad6b"/><rect x="1667" y="396" width="6" height="11" fill="#e95a3a"/><rect x="1667" y="389" width="6" height="7" fill="#f4cd4b"/>
</g>
<rect x="1711" y="369" width="98" height="8" fill="#888"/>
<rect x="1711" y="377" width="98" height="45" fill="#f4f4f4"/>
<g fill="#d00"><rect x="1752" y="380" width="20" height="3"/><rect x="1784" y="380" width="16" height="3"/><rect x="1752" y="389" width="20" height="3"/><rect x="1784" y="389" width="16" height="3"/><rect x="1752" y="398" width="20" height="3"/><rect x="1752" y="407" width="20" height="3"/></g>
<g fill="#e8c020"><rect x="1784" y="398" width="16" height="3"/><rect x="1784" y="407" width="16" height="3"/><rect x="1752" y="416" width="20" height="3"/><rect x="1784" y="416" width="16" height="3"/></g>

<!-- Threat cards C -->
<rect x="1658" y="492" width="132" height="138" rx="14" fill="#fff" stroke="#000" stroke-width="2.500"/>
<rect x="1689" y="511" width="30" height="30" fill="#ffb000"/><rect x="1719" y="511" width="30" height="30" fill="#ff7000"/><rect x="1749" y="511" width="30" height="30" fill="#ff0000"/>
<rect x="1749" y="541" width="30" height="30" fill="#ff7000"/><rect x="1749" y="571" width="30" height="29" fill="#ffb000"/>
<text x="1769" y="526" class="g" style="fill:#a00">CRITICAL</text><text x="1769" y="555" class="g">HIGH</text><text x="1769" y="586" class="g">MEDIUM</text>
<text x="1752" y="502" class="g" style="font-size:9px" textLength="58" lengthAdjust="spacingAndGlyphs">Threat Level</text>
<!-- green arrow 2 -->
<polygon points="1734,430 1750,430 1750,755 1758,755 1742,768 1726,755 1734,755" fill="#00a651" stroke="#002060" stroke-width="2"/>
<!-- card B -->
<rect x="1628" y="523" width="131" height="140" rx="14" fill="#fff" stroke="#000" stroke-width="2.500"/>
<rect x="1658" y="543" width="30" height="30" fill="#ffb000"/><rect x="1688" y="543" width="30" height="30" fill="#ff7000"/><rect x="1718" y="543" width="29" height="30" fill="#ff0000"/>
<rect x="1718" y="573" width="29" height="29" fill="#ff7000"/><rect x="1718" y="602" width="29" height="30" fill="#ffb000"/>
<text x="1732" y="558" class="g" style="fill:#a00">CRITICAL</text><text x="1732" y="587" class="g">HIGH</text><text x="1732" y="617" class="g">MEDIUM</text>
<text x="1722" y="534" class="g" style="font-size:9px" textLength="48" lengthAdjust="spacingAndGlyphs">Threat Level</text>
<!-- green arrow 1 -->
<polygon points="1601,430 1616,430 1616,755 1624,755 1608,767 1592,755 1601,755" fill="#00a651" stroke="#002060" stroke-width="2"/>
<!-- card A -->
<rect x="1583" y="548" width="131" height="141" rx="14" fill="#fff" stroke="#000" stroke-width="2.500"/>
<g stroke="#777" stroke-width=".5">
<rect x="1615" y="568" width="29.500" height="30" fill="#ffb000"/><rect x="1644.500" y="568" width="29.500" height="30" fill="#ff7000"/><rect x="1674" y="568" width="30" height="30" fill="#ff0000"/>
<rect x="1615" y="598" width="29.500" height="30" fill="#52d600"/><rect x="1644.500" y="598" width="29.500" height="30" fill="#ffb000"/><rect x="1674" y="598" width="30" height="30" fill="#ff7000"/>
<rect x="1615" y="628" width="29.500" height="30" fill="#52d600"/><rect x="1644.500" y="628" width="29.500" height="30" fill="#52d600"/><rect x="1674" y="628" width="30" height="30" fill="#ffb000"/>
</g>
<text x="1630" y="583" class="g">MEDIUM</text><text x="1659" y="583" class="g">HIGH</text><text x="1689" y="583" class="g" style="fill:#700">CRITICAL</text>
<text x="1630" y="613" class="g">LOW</text><text x="1659" y="613" class="g">MEDIUM</text><text x="1689" y="613" class="g">HIGH</text>
<text x="1630" y="643" class="g">LOW</text><text x="1659" y="643" class="g">LOW</text><text x="1689" y="643" class="g">MEDIUM</text>
<text x="1680" y="558" class="g" style="font-size:9px" textLength="49" lengthAdjust="spacingAndGlyphs">Threat Level</text>
<text transform="translate(1591 613) rotate(-90)" class="g" style="font-size:8px" textLength="36" lengthAdjust="spacingAndGlyphs">Probability</text>
<path d="M1599 650V568M1615 675H1704" stroke="#333" fill="none"/>
<text x="1658" y="679" class="g" style="font-size:7px" textLength="22" lengthAdjust="spacingAndGlyphs">Impact</text>
<g><text x="1629" y="667" class="g" style="font-weight:normal">low</text><text x="1657" y="667" class="g" style="font-weight:normal">medium</text><text x="1689" y="667" class="g" style="font-weight:normal">high</text></g>

<text x="1834" y="615" class="t d" style="font-size:14px" textLength="70" lengthAdjust="spacingAndGlyphs">Cyber Risks</text>
<text x="1812" y="647" class="t d" style="font-size:14px" textLength="103" lengthAdjust="spacingAndGlyphs">Man-Made Risks</text>
<text x="1760" y="676" class="t d" style="font-size:14px" textLength="84" lengthAdjust="spacingAndGlyphs">Physical Risks</text>

<!-- bars -->
<rect x="1571" y="439" width="336" height="41" rx="8" fill="#00b050" filter="url(#s)"/>
<text x="1739" y="461" class="t d" textLength="279" lengthAdjust="spacingAndGlyphs">Early Warning &amp; Alert Raising Engine</text>

<polygon points="1675,730 1690,730 1690,755 1698,755 1682.500,767 1667,755 1675,755" fill="#c00000" stroke="#002060" stroke-width="2"/>
<polygon points="1824,730 1838,730 1838,757 1846,757 1831,770 1816,757 1824,757" fill="#c00000" stroke="#002060" stroke-width="2"/>
<rect x="1580" y="698" width="335" height="39" rx="6" fill="#c00000" filter="url(#s)"/>
<text x="1747" y="718" class="t d" textLength="294" lengthAdjust="spacingAndGlyphs">Real-time Risk &amp; Resilience Assessment</text>
</g>

<!-- right panel + bottom: lower items -->
<g transform="matrix(.99695 0 0 .9966 2.928 1.836)">
<!-- Recommendation -->
<rect x="1400" y="755" width="183" height="65" rx="12" fill="#fff" stroke="#5b9bd5" stroke-width="2"/>
<text x="1491" y="778" class="t" textLength="133" lengthAdjust="spacingAndGlyphs">Recommendation</text>
<text x="1491" y="799" class="t" textLength="130" lengthAdjust="spacingAndGlyphs">&amp; Tasking Engine</text>

<!-- Brain card -->
<rect x="1591" y="767" width="124" height="111" rx="12" fill="#fff" stroke="#5b9bd5" stroke-width="2"/>
<g fill="none" stroke="#0a75c9" stroke-width="3.500">
<path d="M1651 776C1640 770 1625 772 1622 785C1610 785 1604 795 1610 806C1596 815 1596 830 1608 838C1604 852 1616 862 1628 858C1632 870 1645 873 1651 868Z"/>
<path d="M1653 776H1668L1670 786L1680 791L1690 784L1700 794L1694 804L1698 812L1710 815V830L1698 833L1694 842L1700 852L1690 862L1680 856L1670 860L1668 872H1653"/>
<path d="M1653 795A28 28 0 0 1 1653 851"/>
<path d="M1651 805H1632V795M1651 822H1622M1651 840H1630V852"/>
</g>
<g stroke="#0a75c9" stroke-width="1.500" fill="#0a75c9"><path d="M1655 823L1672 812M1655 823L1676 826M1655 823L1668 838"/></g>

<!-- VR -->
<rect x="1727" y="771" width="181" height="105" rx="8" fill="#cfccc8"/>
<rect x="1833" y="773" width="37" height="38" fill="#5b2a20"/>
<rect x="1727" y="771" width="40" height="70" rx="6" fill="#55524e"/>
<ellipse cx="1775" cy="792" rx="34" ry="20" fill="#2b1f18"/>
<ellipse cx="1770" cy="815" rx="26" ry="24" fill="#b58a6e"/>
<rect x="1776" y="780" width="34" height="40" rx="8" fill="#0c0c0e"/>
<polygon points="1729,876 1735,845 1790,830 1828,876" fill="#7c8270"/>
<polygon points="1742,842 1772,848 1762,876 1735,876" fill="#5a6050"/>
<ellipse cx="1840" cy="845" rx="22" ry="32" fill="#8b8f78"/><circle cx="1838" cy="812" r="9" fill="#7a5a44"/>
<polygon points="1862,850 1908,830 1908,870 1900,876 1864,876" fill="#2b2b2b"/>
<polygon points="1716,847 1722,847 1722,838 1736,853 1722,869 1722,859 1716,859" fill="#0a7fe0" stroke="#002060" stroke-width="1"/>

<rect x="1729" y="884" width="181" height="64" rx="10" fill="#7030a0" filter="url(#s)"/>
<text x="1819" y="906" class="t w" textLength="122" lengthAdjust="spacingAndGlyphs">VR Command &amp;</text>
<text x="1819" y="927" class="t w" textLength="111" lengthAdjust="spacingAndGlyphs">Control Centre</text>
</g>

<g transform="matrix(1 0 0 .9966 0 1.836)">
<!-- Raw data -->
<text x="177" y="893" class="t" textLength="71" lengthAdjust="spacingAndGlyphs">Raw Data</text>
<rect x="233" y="904" width="11" height="9" fill="#ffc000"/>
<g fill="#fff" stroke="#000" stroke-width="2.500"><rect x="222" y="881" width="32" height="23"/><path d="M222 888H254M222 896H254M233 881V904M243 881V904" fill="none"/></g>
<polygon points="284,861 293,872 274,892 282,895 257,888 261,868 266,880" fill="#ffc000" stroke="#002060" stroke-width="2"/>
</g>

<!-- bottom panel -->
<rect x="142" y="911" width="1424" height="164" fill="#f6dff8" stroke="#7030a0" stroke-width="3.500" stroke-dasharray="18 8"/>
<polygon points="718,830 373,913 737,913" fill="#f6dff8"/>
<path d="M718 830L373 913" fill="none" stroke="#7030a0" stroke-width="3.500" stroke-dasharray="18 8"/>

<g transform="matrix(1 0 0 .9966 0 1.836)">
<g fill="#fff" stroke="#41719c" stroke-width="2" stroke-dasharray="8 5">
<rect x="154" y="920" width="296" height="151"/>
<rect x="464" y="920" width="347" height="151"/>
<rect x="839" y="920" width="230" height="151"/>
</g>
<rect x="156" y="923" width="290" height="40" rx="7" fill="#8a6d00"/>
<rect x="470" y="923" width="337" height="40" rx="7" fill="#f7a9ec"/>
<rect x="845" y="921" width="220" height="41" rx="7" fill="#0070c0"/>
<text x="300" y="944" class="t" style="fill:#fdf4d8" textLength="105" lengthAdjust="spacingAndGlyphs">Fusion Level 0</text>
<text x="637" y="944" class="t d" textLength="135" lengthAdjust="spacingAndGlyphs">Fusion Level 1 &amp; 2</text>
<text x="954" y="942" class="t w" textLength="107" lengthAdjust="spacingAndGlyphs">Fusion Level 3</text>

<!-- hub -->
<g stroke="#7030a0" stroke-width="4"><path d="M219 1017L219 987M219 1017L192 1005M219 1017L246 1005M219 1017L198 1037M219 1017L239 1037"/></g>
<g fill="#7030a0"><circle cx="219" cy="1017" r="10"/><ellipse cx="219" cy="987" rx="8" ry="8"/><circle cx="192" cy="1005" r="8"/><circle cx="246" cy="1005" r="8"/><circle cx="198" cy="1037" r="8"/><circle cx="239" cy="1037" r="8"/></g>
<!-- db -->
<g fill="#00b0f0"><ellipse cx="372.500" cy="986" rx="23.500" ry="6.500"/><rect x="349" y="986" width="47" height="11"/><rect x="349" y="999" width="47" height="13"/><rect x="349" y="1014" width="47" height="15" rx="7"/></g>
<text x="380" y="1057" class="t" textLength="135" lengthAdjust="spacingAndGlyphs">Data Aggregation</text>

<!-- scatter -->
<g fill="#d43a3a">
<circle cx="500" cy="982" r="1.500"/><circle cx="505" cy="986" r="1.500"/><circle cx="495" cy="990" r="1"/><circle cx="510" cy="980" r="1"/><circle cx="483" cy="990" r="1"/><circle cx="498" cy="1004" r="1.500"/><circle cx="503" cy="998" r="1"/><circle cx="515" cy="990" r="1"/>
<circle cx="565" cy="982" r="1.500"/><circle cx="570" cy="988" r="1.500"/><circle cx="560" cy="992" r="1"/><circle cx="575" cy="984" r="1"/><circle cx="545" cy="990" r="1"/><circle cx="560" cy="1006" r="1.500"/><circle cx="568" cy="1000" r="1"/><circle cx="582" cy="990" r="1"/>
</g>
<!-- face -->
<rect x="660" y="967" width="106" height="37" fill="#4d4d48"/><rect x="660" y="967" width="106" height="9" fill="#8a8f8a"/>
<g fill="#1c1c1c"><rect x="675" y="978" width="6" height="22"/><rect x="693" y="976" width="6" height="24"/><rect x="705" y="980" width="5" height="20"/><rect x="738" y="977" width="8" height="22"/></g>
<g fill="none" stroke="#3cd03c"><rect x="672" y="975" width="11" height="12"/><rect x="735" y="975" width="11" height="12"/><rect x="720" y="990" width="14" height="12"/></g>

<text x="543" y="1036" class="t" textLength="113" lengthAdjust="spacingAndGlyphs">Classification &amp;</text>
<text x="544" y="1057" class="t" textLength="147" lengthAdjust="spacingAndGlyphs">Counting of objects</text>
<text x="713" y="1016" class="t" textLength="146" lengthAdjust="spacingAndGlyphs">Face Recognition &amp;</text>
<text x="713" y="1037" class="t" textLength="191" lengthAdjust="spacingAndGlyphs">Authentication &amp; Gesture</text>
<text x="712" y="1059" class="t" textLength="129" lengthAdjust="spacingAndGlyphs">Based Interaction</text>

<!-- NN deep -->
<g fill="none" stroke="#666" stroke-width=".9">
<path d="M852 1003L880 978L920 1003L880 1030ZM870 985L910 1022M870 1022L910 985M860 990L925 1015M860 1015L925 990M885 976V1030M895 976V1030M875 980V1028M905 980V1028M852 1003H936"/>
<circle cx="880" cy="985" r="2.500"/><circle cx="880" cy="1000" r="2.500"/><circle cx="880" cy="1015" r="2.500"/><circle cx="895" cy="980" r="2.500"/><circle cx="895" cy="1028" r="2.500"/><circle cx="910" cy="985" r="2.500"/><circle cx="910" cy="1015" r="2.500"/><circle cx="866" cy="995" r="2.500"/><circle cx="866" cy="1012" r="2.500"/><circle cx="926" cy="995" r="2.500"/><circle cx="926" cy="1012" r="2.500"/>
</g>
<!-- charts -->
<rect x="940" y="970" width="121" height="68" fill="#fdfdfd" stroke="#ddd"/>
<g><rect x="943" y="985" width="4" height="15" fill="#e47a2b"/><rect x="948" y="978" width="4" height="22" fill="#3c8f3e"/><rect x="953" y="990" width="4" height="10" fill="#e33"/><rect x="958" y="992" width="4" height="8" fill="#3b6fc4"/>
<rect x="943" y="1012" width="4" height="20" fill="#3b6fc4"/><rect x="948" y="1018" width="4" height="14" fill="#e47a2b"/><rect x="953" y="1022" width="4" height="10" fill="#e33"/><rect x="958" y="1026" width="4" height="6" fill="#e9b82b"/></g>
<polyline points="975,998 985,995 995,975 1003,998" fill="none" stroke="#2b6bc4"/>
<polyline points="975,1000 990,997 1003,996" fill="none" stroke="#e47a2b"/>
<polyline points="1012,998 1017,985 1022,995 1030,977 1038,995 1048,982 1052,998" fill="none" stroke="#1e8a8a"/>
<polyline points="1012,998 1022,988 1032,992 1042,985 1052,998" fill="none" stroke="#2b6bc4"/>
<g><rect x="977" y="1011" width="26" height="5" fill="#3b6fc4"/><rect x="977" y="1017" width="20" height="5" fill="#e47a2b"/><rect x="977" y="1023" width="24" height="4" fill="#3c8f3e"/><rect x="977" y="1028" width="14" height="4" fill="#c33"/></g>
<circle cx="1029" cy="1020" r="10" fill="#e47a2b"/><path d="M1029 1020V1010A10 10 0 0 1 1035 1028Z" fill="#2b6bc4"/><path d="M1029 1020L1035 1028A10 10 0 0 1 1022 1027Z" fill="#3c8f3e"/>
<text x="948" y="1055" class="t" textLength="200" lengthAdjust="spacingAndGlyphs">Deep Learning &amp; Analytics</text>

<polygon points="450,981 460,981 460,970 478,988 460,1007 460,996 450,996" fill="#ffc000" stroke="#002060" stroke-width="2"/>
<polygon points="811,981 820,981 820,970 836,988 820,1007 820,996 811,996" fill="#ffc000" stroke="#002060" stroke-width="2"/>
</g>

<g transform="matrix(.99695 0 0 .9966 2.928 1.836)">
<rect x="1090" y="920" width="220" height="40" rx="7" fill="#d6a300"/>
<rect x="1332" y="920" width="223" height="40" rx="7" fill="#c506aa"/>
<text x="1199" y="941" class="t w" textLength="107" lengthAdjust="spacingAndGlyphs">Fusion Level 4</text>
<text x="1444" y="941" class="t w" textLength="107" lengthAdjust="spacingAndGlyphs">Fusion Level 5</text>
<!-- Forecast -->
<rect x="1106" y="968" width="175" height="72" fill="#fff"/>
<path d="M1118 1000L1126 1012L1138 1012L1151 985L1168 1011L1179 999L1191 1009L1204 976L1212 988L1220 1007" fill="none" stroke="#6fa3d8" stroke-width="1.500"/>
<path d="M1220 1007L1232 995L1248 1004L1260 971L1274 1002" fill="none" stroke="#ec8c50" stroke-width="1.500"/>
<path d="M1220 1010L1232 1003L1248 1012L1260 981L1274 1012M1220 1003L1232 988L1248 996L1260 965L1274 994" fill="none" stroke="#f5c6aa"/>
<path d="M1116 1030H1276" stroke="#ccc"/>
<text x="1191" y="1053" class="t" textLength="195" lengthAdjust="spacingAndGlyphs">Simulations &amp; Forecasting</text>
<!-- Reasoning -->
<rect x="1390" y="964" width="105" height="58" fill="#fff"/>
<ellipse cx="1424" cy="993" rx="12" ry="14" fill="#3b5b94"/><ellipse cx="1460" cy="993" rx="12" ry="14" fill="#3b5b94"/>
<g fill="none"><path d="M1436 985Q1442 977 1448 985M1436 1001Q1442 1009 1448 1001" stroke="#8aa2c6" stroke-width="3"/><path d="M1412 985Q1400 993 1412 1001M1472 985Q1484 993 1472 1001" stroke="#c8603a" stroke-width="2"/></g>
<path d="M1424 970V978M1460 970V978M1424 1008V1016M1460 1008V1016" stroke="#9fb2d0"/>
<text x="1441" y="1040" class="t" textLength="165" lengthAdjust="spacingAndGlyphs">Machine Reasoning &amp;</text>
<text x="1444" y="1061" class="t" textLength="202" lengthAdjust="spacingAndGlyphs">Adv. Situational Awareness</text>
<polygon points="1069,981 1078,981 1078,970 1093,988 1078,1007 1078,996 1069,996" fill="#ffc000" stroke="#002060" stroke-width="2"/>
<polygon points="1296,980 1318,980 1318,969 1336,988 1318,1006 1318,996 1296,996" fill="#ffc000" stroke="#002060" stroke-width="2"/>
</g>
</svg>
</body></html>
